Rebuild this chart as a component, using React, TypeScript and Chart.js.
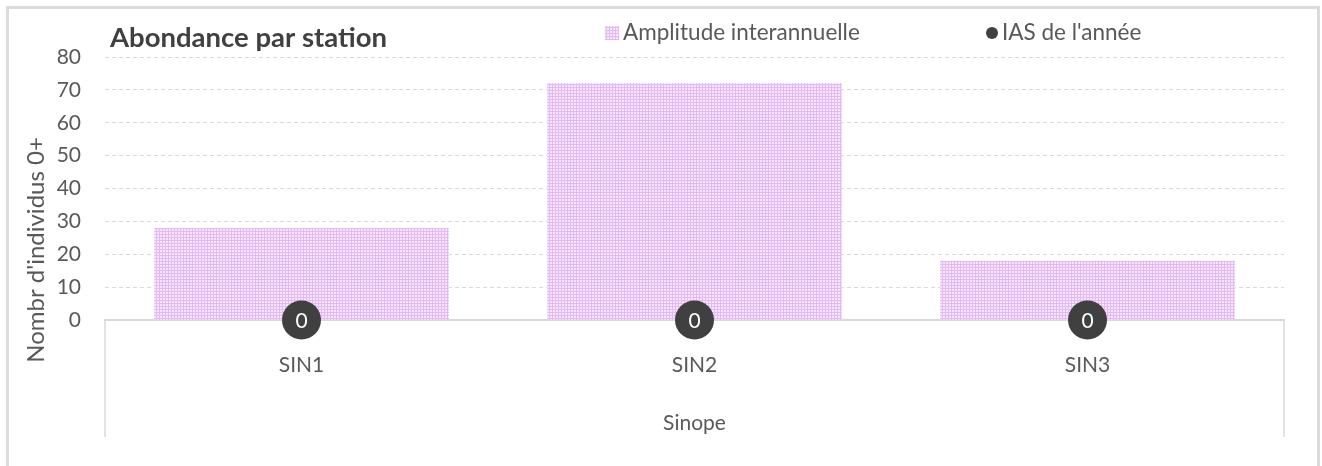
import React, { useEffect, useRef } from "react";
import { Chart, registerables } from "chart.js";

Chart.register(...registerables);

const categories = ["SIN1", "SIN2", "SIN3"];
const amplitude = [28, 72, 18];
const ias = [0, 0, 0];
const iasLabels = ["0", "0", "0"];
const yTicks = [0, 10, 20, 30, 40, 50, 60, 70, 80];
const groupLabel = "Sinope";
const chartTitle = "Abondance par station";
const yTitle = "Nombr d'individus 0+";
const legendLabels = ["Amplitude interannuelle", "IAS de l'année"];

const FONT = "Lato, 'Open Sans', sans-serif";
const GRAY = "#595959";
const DARK = "#404040";
const LINE = "#d9d9d9";

function makePattern(): CanvasPattern | string {
  const c = document.createElement("canvas");
  c.width = 3;
  c.height = 3;
  const g = c.getContext("2d");
  if (!g) return "#ecd0fa";
  g.fillStyle = "#f6e6fd";
  g.fillRect(0, 0, 3, 3);
  g.fillStyle = "#e4b9f6";
  g.fillRect(0, 0, 3, 1);
  g.fillRect(0, 0, 1, 3);
  const p = g.createPattern(c, "repeat");
  return p || "#ecd0fa";
}

export default function App() {
  const ref = useRef<HTMLCanvasElement | null>(null);

  useEffect(() => {
    if (!ref.current) return;
    document.body.style.overflow = "hidden";
    const pattern = makePattern();

    const decor = {
      id: "decor",
      beforeDraw(chart: any) {
        const ctx = chart.ctx;
        ctx.save();
        ctx.fillStyle = "#ffffff";
        ctx.fillRect(0, 0, chart.width, chart.height);
        ctx.strokeStyle = "#dcdcdc";
        ctx.lineWidth = 3;
        ctx.strokeRect(7.5, 7.5, 1311, 520);
        ctx.restore();
      },
      afterDraw(chart: any) {
        const ctx = chart.ctx;
        const area = chart.chartArea;
        ctx.save();
        // group separators
        ctx.strokeStyle = LINE;
        ctx.lineWidth = 1.5;
        ctx.beginPath();
        ctx.moveTo(area.left, area.bottom);
        ctx.lineTo(area.left, 437);
        ctx.moveTo(area.right, area.bottom);
        ctx.lineTo(area.right, 437);
        ctx.stroke();

        // point labels
        const meta = chart.getDatasetMeta(1);
        ctx.fillStyle = "#ffffff";
        ctx.font = `21px ${FONT}`;
        ctx.textAlign = "center";
        ctx.textBaseline = "middle";
        meta.data.forEach((pt: any, i: number) => {
          ctx.fillText(iasLabels[i], pt.x, pt.y + 1);
        });

        // title
        ctx.fillStyle = DARK;
        ctx.font = `bold 27.5px ${FONT}`;
        ctx.textAlign = "left";
        ctx.textBaseline = "alphabetic";
        ctx.fillText(chartTitle, 110, 47);

        // legend
        ctx.font = `22.5px ${FONT}`;
        ctx.fillStyle = pattern as any;
        ctx.fillRect(605, 26, 14, 14);
        ctx.fillStyle = GRAY;
        ctx.textBaseline = "middle";
        ctx.fillText(legendLabels[0], 623, 33);
        ctx.fillStyle = DARK;
        ctx.beginPath();
        ctx.arc(992, 33, 6, 0, Math.PI * 2);
        ctx.fill();
        ctx.fillStyle = GRAY;
        ctx.fillText(legendLabels[1], 1002, 33);

        // y title
        ctx.translate(36, 250);
        ctx.rotate(-Math.PI / 2);
        ctx.font = `24px ${FONT}`;
        ctx.fillStyle = GRAY;
        ctx.textAlign = "center";
        ctx.textBaseline = "middle";
        ctx.fillText(yTitle, 0, 0);
        ctx.restore();
      },
    };

    const chart = new Chart(ref.current, {
      type: "bar",
      data: {
        labels: categories,
        datasets: [
          {
            type: "bar",
            label: legendLabels[0],
            data: amplitude,
            backgroundColor: pattern as any,
            borderWidth: 0,
            barPercentage: 0.75,
            categoryPercentage: 1,
            order: 2,
          },
          {
            type: "line",
            label: legendLabels[1],
            data: ias,
            showLine: false,
            pointRadius: 19.5,
            pointHoverRadius: 19.5,
            pointBackgroundColor: DARK,
            pointBorderWidth: 0,
            clip: false as any,
            order: 1,
          } as any,
        ],
      },
      options: {
        animation: false,
        responsive: false,
        devicePixelRatio: 1,
        layout: { padding: { top: 57, right: 38, left: 0, bottom: 0 } },
        plugins: {
          legend: { display: false },
          title: { display: false },
          tooltip: { enabled: false },
        },
        scales: {
          x: {
            grid: { display: false, drawTicks: false },
            border: { display: true, color: LINE, width: 2 },
            ticks: { color: GRAY, font: { family: FONT, size: 21 }, padding: 33 },
            title: {
              display: true,
              text: groupLabel,
              color: GRAY,
              font: { family: FONT, size: 21 },
              padding: { top: 0, bottom: 30 },
            },
            afterFit: (s: any) => {
              s.height = 146;
            },
          },
          y: {
            min: 0,
            max: 80,
            afterBuildTicks: (s: any) => {
              s.ticks = yTicks.map((v) => ({ value: v }));
            },
            grid: {
              color: (c: any) => (c.tick && c.tick.value === 0 ? "rgba(0,0,0,0)" : LINE),
              drawTicks: false,
              lineWidth: 1,
            },
            border: { display: false, dash: [4, 3] },
            ticks: { color: GRAY, font: { family: FONT, size: 21 }, padding: 24 },
            afterFit: (s: any) => {
              s.width = 105;
            },
          },
        },
      },
      plugins: [decor],
    });

    return () => chart.destroy();
  }, []);

  return (
    <div style={{ position: "fixed", left: 0, top: 0, width: 1322, height: 466 }}>
      <canvas ref={ref} width={1322} height={466} style={{ width: 1322, height: 466 }} />
    </div>
  );
}
